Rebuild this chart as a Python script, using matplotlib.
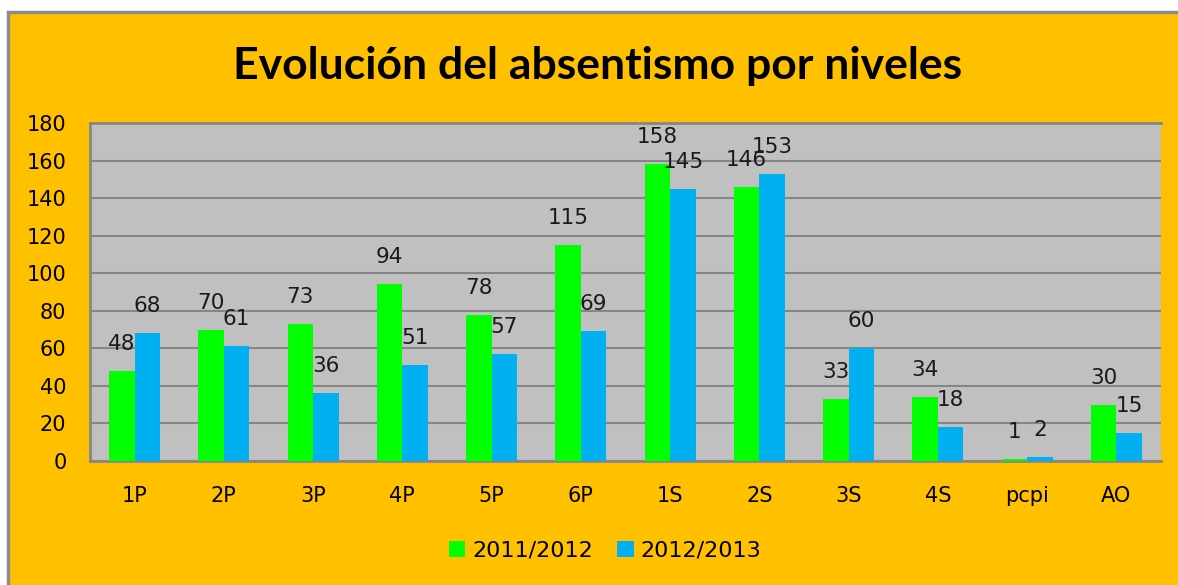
import numpy as np
import matplotlib
matplotlib.use("Agg")
import matplotlib.pyplot as plt
from matplotlib.patches import Rectangle, Patch

categories = ["1P", "2P", "3P", "4P", "5P", "6P", "1S", "2S", "3S", "4S", "pcpi", "AO"]
values_2011 = [48, 70, 73, 94, 78, 115, 158, 146, 33, 34, 1, 30]
values_2012 = [68, 61, 36, 51, 57, 69, 145, 153, 60, 18, 2, 15]
series_names = ["2011/2012", "2012/2013"]
yticks = list(range(0, 181, 20))

ORANGE = "#FFC000"
PLOT_BG = "#C0C0C0"
GREEN = "#00FF00"
BLUE = "#00B0F0"
GRID = "#868686"

W, H = 1178, 585
fig = plt.figure(figsize=(W / 100, H / 100), dpi=100, facecolor="white")

# chart area (orange panel with grey border on top/left)
fig.patches.append(Rectangle((8 / W, -0.05), 1.0, 1.05 - 12 / H, transform=fig.transFigure,
                             facecolor=ORANGE, edgecolor="#8C8C8C", linewidth=2.5,
                             zorder=-5))

ax = fig.add_axes([90 / W, 1 - 461 / H, (1161 - 90) / W, (461 - 123) / H])
ax.set_zorder(2)
ax.set_facecolor(PLOT_BG)

x = np.arange(len(categories))
w = 0.2857
b1 = ax.bar(x - w / 2, values_2011, w, color=GREEN, zorder=3)
b2 = ax.bar(x + w / 2, values_2012, w, color=BLUE, zorder=3)

for bars, vals in ((b1, values_2011), (b2, values_2012)):
    for rect, v in zip(bars, vals):
        ax.annotate(str(v), (rect.get_x() + rect.get_width() / 2, rect.get_height()),
                    xytext=(0, 27), textcoords="offset pixels", ha="center", va="center",
                    fontsize=15.5, color="#1a1a1a", zorder=5, annotation_clip=False)

ax.set_xlim(-0.5, len(categories) - 0.5)
ax.set_ylim(0, 180)
ax.set_yticks(yticks)
ax.set_xticks(x)
ax.set_xticklabels(categories)
ax.tick_params(axis="both", length=0, labelsize=15, colors="black")
ax.tick_params(axis="x", pad=18)
ax.tick_params(axis="y", pad=17)
ax.yaxis.grid(True, color=GRID, linewidth=1.5, zorder=1)
ax.set_axisbelow(True)
for side in ("left", "top", "bottom"):
    ax.spines[side].set_color(GRID)
    ax.spines[side].set_linewidth(2)
ax.spines["right"].set_visible(False)

fig.text(598 / W, 1 - 66 / H, "Evolución del absentismo por niveles",
         ha="center", va="center", fontsize=32, fontweight="bold", family="Lato")

handles = [Patch(facecolor=GREEN), Patch(facecolor=BLUE)]
fig.legend(handles, series_names, loc="center", bbox_to_anchor=(605 / W, 1 - 551 / H),
           ncol=2, frameon=False, fontsize=16, handlelength=0.75, handleheight=0.75,
           handletextpad=0.3, columnspacing=1.1)

fig.savefig("out.png", dpi=100, facecolor=fig.get_facecolor())
